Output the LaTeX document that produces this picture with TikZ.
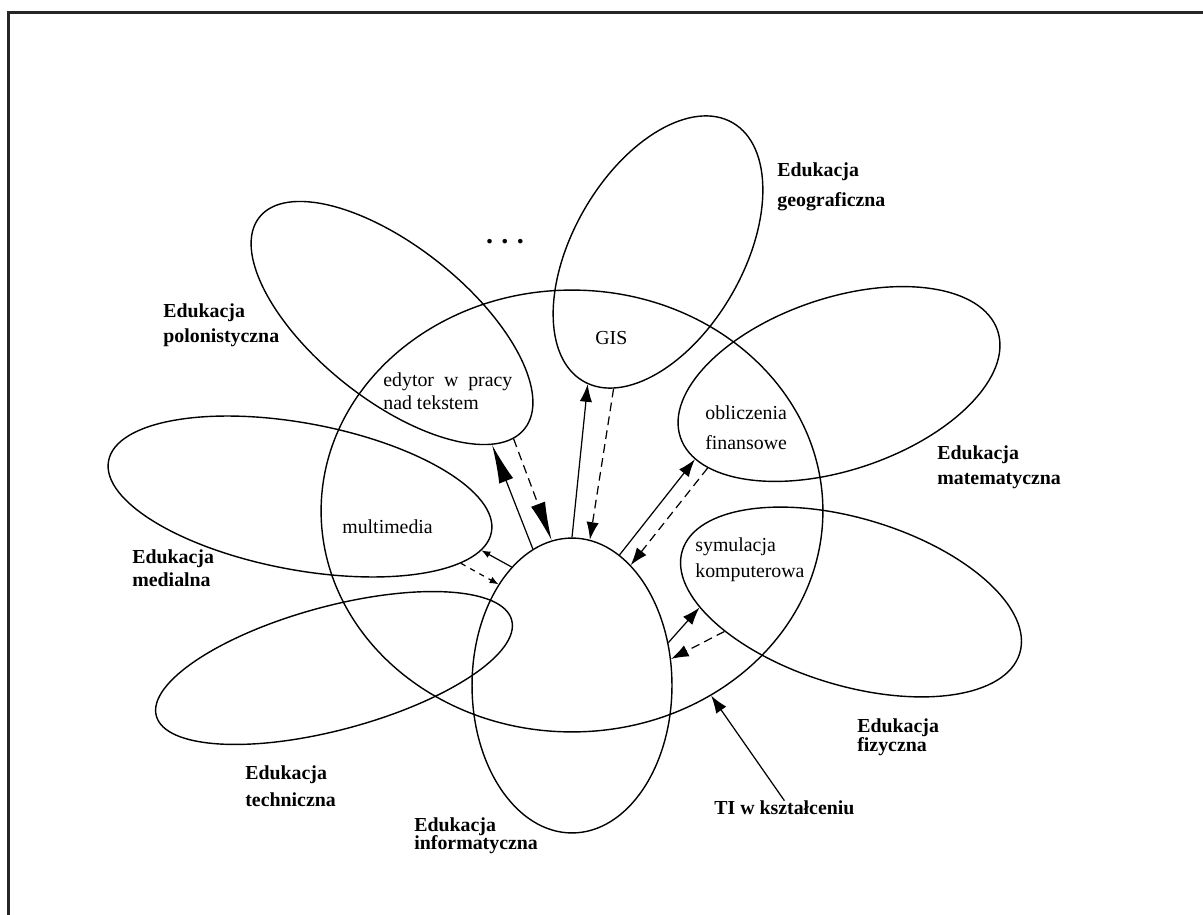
\documentclass[tikz,border=0pt]{standalone}
\usepackage{fontspec}
\setmainfont{Liberation Serif}
\usetikzlibrary{shapes.geometric,arrows.meta}
\tikzset{
myArea/.style 2 args={
	ellipse, draw, line width=0.8pt,
	inner sep=0pt, minimum width=#1*0.04cm, minimum height=#2*0.04cm
}
, myField/.style={
	font=\fontsize{11.3}{14}\selectfont\bfseries,
	align=left, anchor=west, inner sep=0pt
}
, myTool/.style={
	font=\fontsize{11.3}{14}\selectfont,
	align=left, anchor=west, inner sep=0pt
}
% links
, myFwd/.style={-{Latex[length=10pt,width=7pt]},line width=0.7pt}
, myBack/.style={-{Latex[length=10pt,width=7pt]},line width=0.7pt,dash pattern=on 5pt off 3pt}
, myFwdLong/.style={-{Latex[length=22pt,width=8.5pt]},line width=0.7pt}
, myBackLong/.style={-{Latex[length=22pt,width=8.5pt]},line width=0.7pt,dash pattern=on 5pt off 3pt}
, myFwdSmall/.style={-{Latex[length=5pt,width=4pt]},line width=0.7pt}
, myBackSmall/.style={-{Latex[length=5pt,width=4pt]},line width=0.7pt,dash pattern=on 3pt off 3pt}
}
\begin{document}
\begin{tikzpicture}[x=0.02cm,y=-0.02cm]
	\useasboundingbox (0,0) rectangle (1203,915);
	% frame
	\draw[line width=1.2pt, black!85] (8.5,915) -- (8.5,12.5) -- (1203,12.5);
	% areas
	\node[myArea={251}{221}] (ti) at (572,511) {};
	\node[myArea={100}{147.5}] (inf) at (572,685.5) {};
	\node[myArea={149.3}{85.1}, rotate=60] (geo) at (658,252) {};
	\node[myArea={169.7}{76.5}, rotate=-38.6] (pol) at (392,323) {};
	\node[myArea={167.4}{86}, rotate=18.6] (mat) at (839,384) {};
	\node[myArea={194.8}{73.4}, rotate=-10.55] (med) at (300,496.5) {};
	\node[myArea={184.1}{61.7}, rotate=15.1] (tec) at (334,668) {};
	\node[myArea={176.4}{83.5}, rotate=-16.9] (fiz) at (851,602) {};
	% field labels
	\node[myField] (geoLab) at (777,187) {Edukacja\\[3pt]geograficzna};
	\node[myField] (polLab) at (163,325.5) {Edukacja\\polonistyczna};
	\node[myField] (matLab) at (937,467.5) {Edukacja\\matematyczna};
	\node[myField] (medLab) at (132,568.5) {Edukacja\\[-0.8pt]medialna};
	\node[myField] (tecLab) at (245,786.5) {Edukacja\\[1.3pt]techniczna};
	\node[myField] (fizLab) at (857,737.5) {Edukacja\\[-3.2pt]fizyczna};
	\node[myField] (infLab) at (414,836) {Edukacja\\[-3.7pt]informatyczna};
	\node[myField] (tiLab) at (714,808) {TI w kształceniu};
	\node[myField, anchor=center, font=\fontsize{16}{16}\selectfont\bfseries] (dots) at (505,242) {.\hspace{0.3em}.\hspace{0.3em}.};
	% tool labels
	\node[myTool] (edyLab) at (383,391.5) {edytor\hspace{0.5em}w\hspace{0.5em}pracy\\[-1pt]nad tekstem};
	\node[myTool] (gisLab) at (595,338) {GIS};
	\node[myTool] (oblLab) at (705,428) {obliczenia\\[3pt]finansowe};
	\node[myTool] (mulLab) at (342,527) {multimedia};
	\node[myTool] (symLab) at (695,560) {symulacja\\[0.7pt]komputerowa};
	% links
	\draw [myFwdLong] (inf.106) -- (pol.-12);
	\draw [myBackLong] (pol.-5) -- (inf.98);
	\draw [myFwd] (inf.90) -- (geo.182);
	\draw [myBack] (geo.192) -- (inf.83);
	\draw [myFwd] (inf.70) -- (mat.189);
	\draw [myBack] (mat.194) -- (inf.64);
	\draw [myFwd] (inf.24) -- (fiz.199);
	\draw [myBack] (fiz.210) -- (inf.15);
	\draw [myFwdSmall] (inf.117) -- (med.-6);
	\draw [myBackSmall] (med.-12) -- (inf.126);
	\draw [myFwd] (tiLab.north) -- (ti.-53);
\end{tikzpicture}
\end{document}
